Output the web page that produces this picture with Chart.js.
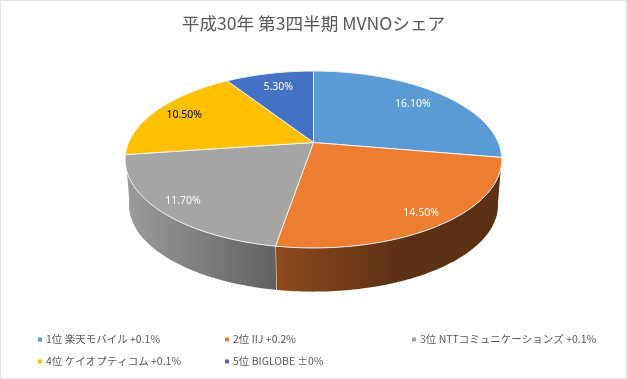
<!DOCTYPE html>
<html lang="ja">
<head>
<meta charset="utf-8">
<title>MVNOシェア</title>
<script src="https://cdn.jsdelivr.net/npm/chart.js@4"></script>
<style>
  html, body { margin: 0; padding: 0; background: #fff; }
  canvas { display: block; }
</style>
</head>
<body>
<canvas id="share-pie" width="627" height="379"></canvas>
<script>
const chartTitle = '平成30年 第3四半期 MVNOシェア';
const carriers = ['1位 楽天モバイル +0.1%', '2位 IIJ +0.2%', '3位 NTTコミュニケーションズ +0.1%', '4位 ケイオプティコム +0.1%', '5位 BIGLOBE ±0%'];
const shares = [16.1, 14.5, 11.7, 10.5, 5.3];
const colors = ['#5B9BD5', '#ED7D31', '#A5A5A5', '#FFC000', '#4472C4'];
const labelColors = ['#fff', '#fff', '#fff', '#000', '#fff'];

// Perspective of the disc, fitted to the picture
const TIP_Y = 142.5, SPAN_X = 184.8, SPAN_Y = 85.2, PERSP = 0.192;
const FLOOR_Y = 188.3, FLOOR_SCALE = 0.98;
const LABEL_R = [0.77, 0.87, 0.87, 0.82, 0.77];

function project(cx, a, r, baseY, scale) {
  const u = Math.cos(a) * r, v = Math.sin(a) * r;
  const w = 1 - PERSP * v;
  return [cx + scale * SPAN_X * u / w, baseY + scale * SPAN_Y * v / w];
}

function edgePoints(cx, start, end, baseY, scale) {
  const pts = [];
  const n = Math.max(2, Math.ceil((end - start) * 60));
  for (let i = 0; i <= n; i++) {
    pts.push(project(cx, start + (end - start) * i / n, 1, baseY, scale));
  }
  return pts;
}

function shade(ctx, hex, x0, x1, f0, f1) {
  const g = ctx.createLinearGradient(x0, 0, x1, 0);
  const n = parseInt(hex.slice(1), 16);
  const rgb = f => `rgb(${((n >> 16) & 255) * f | 0},${((n >> 8) & 255) * f | 0},${(n & 255) * f | 0})`;
  g.addColorStop(0, rgb(f0));
  g.addColorStop(1, rgb(f1));
  return g;
}

const tiltedPie = {
  id: 'tiltedPie',
  beforeDraw(chart) {
    const ctx = chart.ctx;
    ctx.save();
    ctx.strokeStyle = '#E4E4E4';
    ctx.lineWidth = 2;
    ctx.strokeRect(0, 0, chart.width, chart.height);
    ctx.restore();
  },
  beforeDatasetsDraw(chart) {
    const ctx = chart.ctx;
    const arcs = chart.getDatasetMeta(0).data;
    ctx.save();
    ctx.lineJoin = 'round';

    // outer wall, only the orange and grey slices face the viewer
    [1, 2].forEach(i => {
      const arc = arcs[i];
      const top = edgePoints(arc.x, arc.startAngle, arc.endAngle, TIP_Y, 1);
      const low = edgePoints(arc.x, arc.startAngle, arc.endAngle, FLOOR_Y, FLOOR_SCALE).reverse();
      ctx.beginPath();
      top.concat(low).forEach((p, k) => k ? ctx.lineTo(p[0], p[1]) : ctx.moveTo(p[0], p[1]));
      ctx.closePath();
      ctx.fillStyle = i === 2
        ? shade(ctx, colors[i], 125, 280, 0.95, 0.58)
        : shade(ctx, colors[i], 275, 400, 0.6, 0.39);
      ctx.fill();
      if (i === 1) {
        // the seam between grey and orange walls
        ctx.beginPath();
        const a = top[top.length - 1], b = low[0];
        ctx.moveTo(a[0], a[1]);
        ctx.lineTo(b[0], b[1]);
        ctx.strokeStyle = '#fff';
        ctx.lineWidth = 1;
        ctx.stroke();
      }
    });

    // top face
    arcs.forEach((arc, i) => {
      const rim = edgePoints(arc.x, arc.startAngle, arc.endAngle, TIP_Y, 1);
      const tip = project(arc.x, 0, 0, TIP_Y, 1);
      ctx.beginPath();
      ctx.moveTo(tip[0], tip[1]);
      rim.forEach(p => ctx.lineTo(p[0], p[1]));
      ctx.closePath();
      ctx.fillStyle = colors[i];
      ctx.fill();
      ctx.strokeStyle = '#F2F2F2';
      ctx.lineWidth = 1;
      ctx.stroke();
    });

    // value labels
    ctx.font = '10.5px "Noto Sans", sans-serif';
    ctx.textAlign = 'center';
    ctx.textBaseline = 'middle';
    arcs.forEach((arc, i) => {
      const mid = (arc.startAngle + arc.endAngle) / 2;
      const p = project(arc.x, mid, LABEL_R[i], TIP_Y, 1);
      ctx.fillStyle = labelColors[i];
      ctx.fillText(shares[i].toFixed(2) + '%', p[0], p[1]);
    });
    ctx.restore();
    return false;
  },
  afterDraw(chart) {
    // legend sits on a fixed 3 column grid, which the stock legend can't do
    const ctx = chart.ctx;
    ctx.save();
    ctx.font = '10.5px "Noto Sans CJK JP", sans-serif';
    ctx.textBaseline = 'middle';
    carriers.forEach((name, i) => {
      const x = 38 + 187 * (i % 3);
      const y = 339.5 + 22 * Math.floor(i / 3);
      ctx.fillStyle = colors[i];
      ctx.fillRect(x, y - 2, 4, 4);
      ctx.fillStyle = '#595959';
      ctx.fillText(name, x + 8, y);
    });
    ctx.restore();
  }
};

new Chart(document.getElementById('share-pie'), {
  type: 'pie',
  data: {
    labels: carriers,
    datasets: [{ data: shares, backgroundColor: colors }]
  },
  options: {
    responsive: false,
    animation: false,
    plugins: {
      legend: { display: false },
      tooltip: { enabled: false },
      title: {
        display: true,
        text: chartTitle,
        color: '#595959',
        font: { family: '"Noto Sans CJK JP", sans-serif', size: 17.6, weight: 'normal' },
        padding: { top: 13, bottom: 10 }
      }
    }
  },
  plugins: [tiltedPie]
});
</script>
</body>
</html>
